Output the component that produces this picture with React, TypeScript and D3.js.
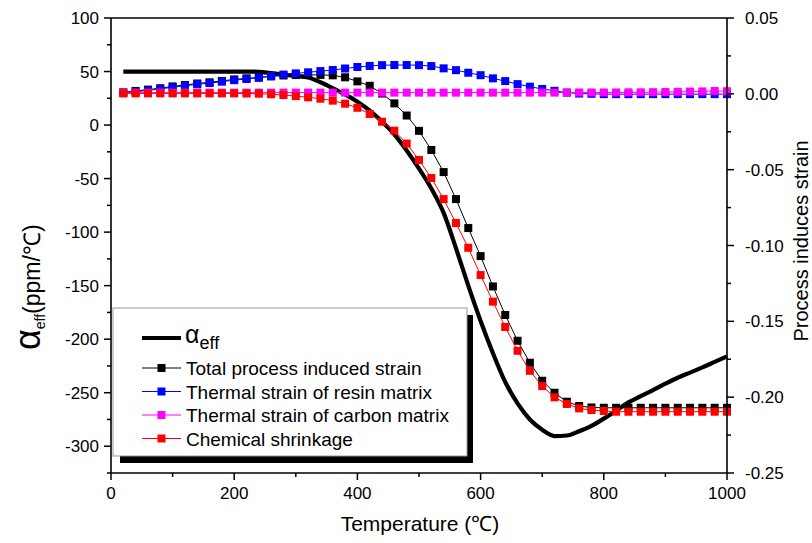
import React from 'react';
import * as d3 from 'd3';

const temps = [20, 40, 60, 80, 100, 120, 140, 160, 180, 200, 220, 240, 260, 280, 300, 320, 340, 360, 380, 400,
  420, 440, 460, 480, 500, 520, 540, 560, 580, 600, 620, 640, 660, 680, 700, 720, 740, 760, 780, 800,
  820, 840, 860, 880, 900, 920, 940, 960, 980, 1000];

const alphaEff = [50, 50, 50, 50, 50, 50, 50, 50, 50, 50, 50, 49.7, 48.5, 47, 45.8, 44.4, 40, 34.5, 28.6, 21.8,
  13.5, 3.2, -8.6, -23.8, -40.7, -59.2, -82, -115, -150, -183, -213, -240, -260, -275, -284.6, -290.5, -290, -286, -281, -274.2,
  -266.8, -259, -253.3, -247.5, -241.6, -236, -231.2, -226.4, -221.2, -216];

const totalStrain = [0.0010, 0.0019, 0.0028, 0.0037, 0.0049, 0.0058, 0.0068, 0.0076, 0.0085, 0.0095, 0.0102, 0.0108, 0.0115, 0.0121, 0.0124, 0.0125, 0.0125, 0.0122, 0.0109, 0.0082,
  0.0053, 0.0002, -0.0063, -0.0143, -0.0244, -0.037, -0.0516, -0.0694, -0.0885, -0.107, -0.127, -0.1458, -0.1628, -0.1773, -0.1892, -0.1971, -0.203, -0.2058, -0.2068, -0.207,
  -0.207, -0.207, -0.207, -0.207, -0.207, -0.207, -0.207, -0.207, -0.207, -0.207];

const resinStrain = [0.0005, 0.0014, 0.0023, 0.0032, 0.0044, 0.0053, 0.0063, 0.0071, 0.008, 0.009, 0.0098, 0.0106, 0.0117, 0.0127, 0.0135, 0.0142, 0.015, 0.0157, 0.0167, 0.0177,
  0.0184, 0.0189, 0.019, 0.019, 0.0189, 0.0183, 0.0168, 0.0156, 0.0139, 0.0123, 0.0102, 0.0084, 0.0064, 0.0047, 0.0032, 0.002, 0.0008, 0.0002, 0, -0.0002,
  -0.0002, -0.0002, -0.0002, -0.0002, -0.0002, -0.0002, -0.0002, -0.0002, -0.0002, -0.0002];

const carbonStrain = [0.0008, 0.0008, 0.0008, 0.0008, 0.0008, 0.0008, 0.0008, 0.0008, 0.0008, 0.0008, 0.0008, 0.0008, 0.0008, 0.0008, 0.0008, 0.0008, 0.0008, 0.0008, 0.0008, 0.0008,
  0.0008, 0.0008, 0.0008, 0.0008, 0.0008, 0.0008, 0.0008, 0.0008, 0.0008, 0.0008, 0.0008, 0.0008, 0.0008, 0.0008, 0.0008, 0.0008, 0.0009, 0.0009, 0.0009, 0.0009,
  0.0009, 0.001, 0.001, 0.0011, 0.0012, 0.0013, 0.0015, 0.0016, 0.0019, 0.0017];

const chemStrain = [0.0003, 0.0003, 0.0003, 0.0003, 0.0003, 0.0003, 0.0003, 0.0003, 0.0003, 0.0003, 0.0002, 0.0001, -0.0003, -0.0008, -0.0015, -0.0023, -0.0032, -0.0045, -0.0065, -0.0092,
  -0.0133, -0.0184, -0.0243, -0.0328, -0.0436, -0.0555, -0.0694, -0.0852, -0.1015, -0.1195, -0.137, -0.1537, -0.1694, -0.1826, -0.1927, -0.2001, -0.2045, -0.2074, -0.2085, -0.2091,
  -0.2096, -0.2096, -0.2096, -0.2096, -0.2096, -0.2096, -0.2096, -0.2096, -0.2096, -0.2096];

const seriesNames = ['Total process induced strain', 'Thermal strain of resin matrix', 'Thermal strain of carbon matrix', 'Chemical shrinkage'];
const seriesColors = ['#000000', '#0000ff', '#ff00ff', '#ff0000'];

const xTicks = [0, 200, 400, 600, 800, 1000];
const xMinor = [100, 300, 500, 700, 900];
const yLeftTicks = [100, 50, 0, -50, -100, -150, -200, -250, -300];
const yLeftMinor = [75, 25, -25, -75, -125, -175, -225, -275, -325];
const yRightTicks = ['0.05', '0.00', '-0.05', '-0.10', '-0.15', '-0.20', '-0.25'];
const yRightMinor = [0.025, -0.025, -0.075, -0.125, -0.175, -0.225];

const FONT = "'Liberation Sans', Arial, sans-serif";

export default function App() {
  const W = 812, H = 543;
  const x = d3.scaleLinear().domain([0, 1000]).range([111, 727]);
  const yL = d3.scaleLinear().domain([-325, 100]).range([473, 18]);
  const yR = d3.scaleLinear().domain([-0.25, 0.05]).range([473, 18]);
  const [x0, x1] = x.range();
  const [yb, yt] = yL.range();

  const alphaPath = d3.line<number>()
    .x((_, i) => x(temps[i]))
    .y((d) => yL(d))
    .curve(d3.curveMonotoneX)(alphaEff) || '';

  const seriesValues = [totalStrain, resinStrain, carbonStrain, chemStrain];
  const strainLine = d3.line<number>().x((_, i) => x(temps[i])).y((d) => yR(d));
  const ms = 8;

  const legX = 113, legY = 308, legW = 354, legH = 148;
  const entryY = [338, 368, 391.5, 415, 438.5];
  const lx0 = 142, lx1 = 181, tx = 186;

  return (
    <svg width={W} height={H} style={{ position: 'absolute', left: 0, top: 0, display: 'block', background: '#fff' }} fontFamily={FONT}>
      <rect x={0} y={0} width={W} height={H} fill="#fff" />
      {/* alpha_eff thick line */}
      <path d={alphaPath} fill="none" stroke="#000" strokeWidth={4.2} strokeLinejoin="round" />
      {/* strain series */}
      {seriesValues.map((vals, si) => (
        <g key={si}>
          <path d={strainLine(vals) || ''} fill="none" stroke={seriesColors[si]} strokeWidth={1} />
          {vals.map((v, i) => (
            <rect key={i} x={x(temps[i]) - ms / 2} y={yR(v) - ms / 2} width={ms} height={ms} fill={seriesColors[si]} />
          ))}
        </g>
      ))}

      {/* frame */}
      <line x1={x0} x2={x1} y1={yt} y2={yt} stroke="#000" strokeWidth={1.6} />
      <line x1={x0} x2={x1} y1={yb} y2={yb} stroke="#000" strokeWidth={1.6} />
      <line x1={x0} x2={x0} y1={yt} y2={yb} stroke="#000" strokeWidth={1.6} />
      <line x1={x1} x2={x1} y1={yt} y2={yb} stroke="#000" strokeWidth={1.6} />

      {/* x ticks */}
      {xTicks.map((t) => (
        <g key={'xt' + t}>
          <line x1={x(t)} x2={x(t)} y1={yb} y2={yb + 7} stroke="#000" strokeWidth={1.5} />
          <text x={x(t)} y={499} fontSize={17} textAnchor="middle">{t}</text>
        </g>
      ))}
      {xMinor.map((t) => (
        <line key={'xm' + t} x1={x(t)} x2={x(t)} y1={yb} y2={yb + 4} stroke="#000" strokeWidth={1.5} />
      ))}

      {/* left ticks */}
      {yLeftTicks.map((t) => (
        <g key={'yl' + t}>
          <line x1={x0 - 7} x2={x0} y1={yL(t)} y2={yL(t)} stroke="#000" strokeWidth={1.5} />
          <text x={99} y={yL(t) + 6} fontSize={17} textAnchor="end">{t}</text>
        </g>
      ))}
      {yLeftMinor.map((t) => (
        <line key={'ylm' + t} x1={x0 - 4} x2={x0} y1={yL(t)} y2={yL(t)} stroke="#000" strokeWidth={1.5} />
      ))}

      {/* right ticks */}
      {yRightTicks.map((t) => (
        <g key={'yr' + t}>
          <line x1={x1} x2={x1 + 7} y1={yR(+t)} y2={yR(+t)} stroke="#000" strokeWidth={1.5} />
          <text x={745} y={yR(+t) + 6} fontSize={17} textAnchor="start">{t}</text>
        </g>
      ))}
      {yRightMinor.map((t) => (
        <line key={'yrm' + t} x1={x1} x2={x1 + 4} y1={yR(t)} y2={yR(t)} stroke="#000" strokeWidth={1.5} />
      ))}

      {/* axis titles */}
      <text x={420} y={531} fontSize={21} textAnchor="middle">Temperature (℃)</text>
      <text transform="translate(808,241) rotate(-90)" fontSize={20} textAnchor="middle">Process induces strain</text>
      <text transform="translate(40,350) rotate(-90)">
        <tspan fontSize={36}>α</tspan>
        <tspan fontSize={14} dy={5}>eff</tspan>
        <tspan fontSize={23} dy={-5}>(ppm/℃)</tspan>
      </text>

      {/* legend */}
      <rect x={legX + 7} y={legY + legH} width={legW - 1} height={7} fill="#000" />
      <rect x={legX + legW} y={legY + 7} width={6} height={legH} fill="#000" />
      <rect x={legX} y={legY} width={legW} height={legH} fill="#fff" stroke="#999" strokeWidth={1} />
      <line x1={lx0} x2={lx1} y1={entryY[0]} y2={entryY[0]} stroke="#000" strokeWidth={4.2} />
      <text x={tx - 1} y={entryY[0] + 5}>
        <tspan fontSize={25}>α</tspan>
        <tspan fontSize={18} dy={6}>eff</tspan>
      </text>
      {seriesNames.map((n, i) => (
        <g key={n}>
          <line x1={lx0} x2={lx1} y1={entryY[i + 1]} y2={entryY[i + 1]} stroke={seriesColors[i]} strokeWidth={1} />
          <rect x={(lx0 + lx1) / 2 - ms / 2} y={entryY[i + 1] - ms / 2} width={ms} height={ms} fill={seriesColors[i]} />
          <text x={tx} y={entryY[i + 1] + 7} fontSize={19}>{n}</text>
        </g>
      ))}
    </svg>
  );
}
